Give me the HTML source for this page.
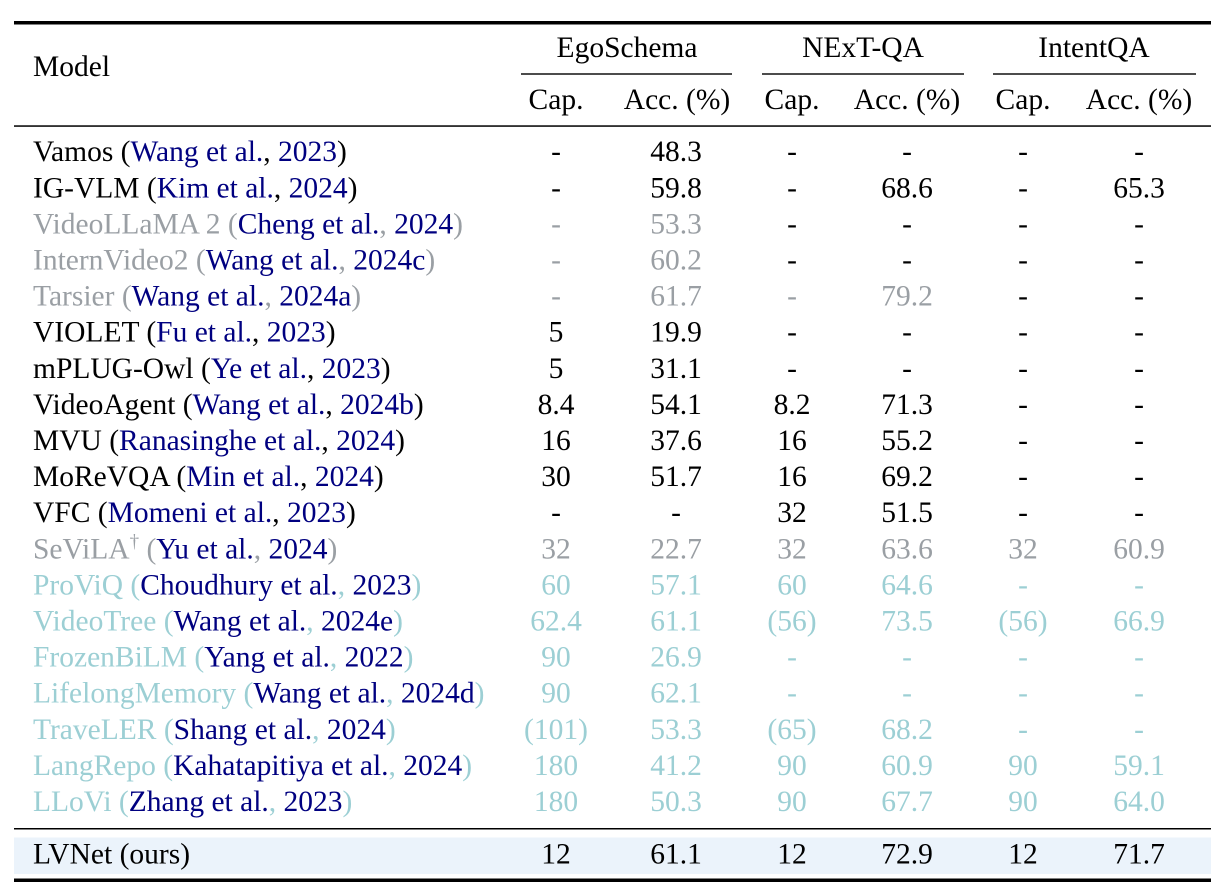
<!DOCTYPE html>
<html>
<head>
<meta charset="utf-8">
<style>
html,body{margin:0;padding:0;background:#fff;}
svg{display:block;}
text{font-family:"Liberation Serif","Times New Roman",serif;font-size:29.5px;fill:#000;}
.g{fill:#9a9fa4;}
.t{fill:#9ccfd4;}
.n{fill:#000080;}
.c{text-anchor:middle;}
</style>
</head>
<body>
<svg width="1228" height="886" viewBox="0 0 1228 886" xmlns="http://www.w3.org/2000/svg">
<!-- rules -->
<rect x="14" y="21" width="1197" height="3.5" fill="#000"/>
<rect x="521" y="73.3" width="211" height="1.4" fill="#000"/>
<rect x="762" y="73.3" width="202" height="1.4" fill="#000"/>
<rect x="993" y="73.3" width="203" height="1.4" fill="#000"/>
<rect x="14" y="125.3" width="1197" height="1.5" fill="#000"/>
<rect x="14" y="828" width="1197" height="1.5" fill="#000"/>
<rect x="14" y="837.5" width="1197" height="36.5" fill="#ebf3fb"/>
<rect x="14" y="878.5" width="1197" height="3.5" fill="#000"/>

<!-- header -->
<text x="33" y="76">Model</text>
<text class="c" x="627" y="57">EgoSchema</text>
<text class="c" x="863" y="57">NExT-QA</text>
<text class="c" x="1094" y="57">IntentQA</text>
<text class="c" x="556" y="109">Cap.</text>
<text class="c" x="677" y="109">Acc. (%)</text>
<text class="c" x="792" y="109">Cap.</text>
<text class="c" x="907" y="109">Acc. (%)</text>
<text class="c" x="1023" y="109">Cap.</text>
<text class="c" x="1139" y="109">Acc. (%)</text>

<!-- row 1 y=161.2 -->
<text x="33" y="161.2">Vamos (<tspan class="n">Wang et al.</tspan>, <tspan class="n">2023</tspan>)</text>
<text class="c" x="556" y="161.2">-</text><text class="c" x="676" y="161.2">48.3</text><text class="c" x="792" y="161.2">-</text><text class="c" x="907" y="161.2">-</text><text class="c" x="1023" y="161.2">-</text><text class="c" x="1139" y="161.2">-</text>

<!-- row 2 y=197.3 -->
<text x="33" y="197.3">IG-VLM (<tspan class="n">Kim et al.</tspan>, <tspan class="n">2024</tspan>)</text>
<text class="c" x="556" y="197.3">-</text><text class="c" x="676" y="197.3">59.8</text><text class="c" x="792" y="197.3">-</text><text class="c" x="907" y="197.3">68.6</text><text class="c" x="1023" y="197.3">-</text><text class="c" x="1139" y="197.3">65.3</text>

<!-- row 3 y=233.4 -->
<text x="33" y="233.4" class="g">VideoLLaMA 2 (<tspan class="n">Cheng et al.</tspan>, <tspan class="n">2024</tspan>)</text>
<text class="c g" x="556" y="233.4">-</text><text class="c g" x="676" y="233.4">53.3</text><text class="c" x="792" y="233.4">-</text><text class="c" x="907" y="233.4">-</text><text class="c" x="1023" y="233.4">-</text><text class="c" x="1139" y="233.4">-</text>

<!-- row 4 y=269.5 -->
<text x="33" y="269.5" class="g">InternVideo2 (<tspan class="n">Wang et al.</tspan>, <tspan class="n">2024c</tspan>)</text>
<text class="c g" x="556" y="269.5">-</text><text class="c g" x="676" y="269.5">60.2</text><text class="c" x="792" y="269.5">-</text><text class="c" x="907" y="269.5">-</text><text class="c" x="1023" y="269.5">-</text><text class="c" x="1139" y="269.5">-</text>

<!-- row 5 y=305.6 -->
<text x="33" y="305.6" class="g">Tarsier (<tspan class="n">Wang et al.</tspan>, <tspan class="n">2024a</tspan>)</text>
<text class="c g" x="556" y="305.6">-</text><text class="c g" x="676" y="305.6">61.7</text><text class="c g" x="792" y="305.6">-</text><text class="c g" x="907" y="305.6">79.2</text><text class="c" x="1023" y="305.6">-</text><text class="c" x="1139" y="305.6">-</text>

<!-- row 6 y=341.7 -->
<text x="33" y="341.7">VIOLET (<tspan class="n">Fu et al.</tspan>, <tspan class="n">2023</tspan>)</text>
<text class="c" x="556" y="341.7">5</text><text class="c" x="676" y="341.7">19.9</text><text class="c" x="792" y="341.7">-</text><text class="c" x="907" y="341.7">-</text><text class="c" x="1023" y="341.7">-</text><text class="c" x="1139" y="341.7">-</text>

<!-- row 7 y=377.8 -->
<text x="33" y="377.8">mPLUG-Owl (<tspan class="n">Ye et al.</tspan>, <tspan class="n">2023</tspan>)</text>
<text class="c" x="556" y="377.8">5</text><text class="c" x="676" y="377.8">31.1</text><text class="c" x="792" y="377.8">-</text><text class="c" x="907" y="377.8">-</text><text class="c" x="1023" y="377.8">-</text><text class="c" x="1139" y="377.8">-</text>

<!-- row 8 y=413.9 -->
<text x="33" y="413.9">VideoAgent (<tspan class="n">Wang et al.</tspan>, <tspan class="n">2024b</tspan>)</text>
<text class="c" x="556" y="413.9">8.4</text><text class="c" x="676" y="413.9">54.1</text><text class="c" x="792" y="413.9">8.2</text><text class="c" x="907" y="413.9">71.3</text><text class="c" x="1023" y="413.9">-</text><text class="c" x="1139" y="413.9">-</text>

<!-- row 9 y=450.0 -->
<text x="33" y="450">MVU (<tspan class="n">Ranasinghe et al.</tspan>, <tspan class="n">2024</tspan>)</text>
<text class="c" x="556" y="450">16</text><text class="c" x="676" y="450">37.6</text><text class="c" x="792" y="450">16</text><text class="c" x="907" y="450">55.2</text><text class="c" x="1023" y="450">-</text><text class="c" x="1139" y="450">-</text>

<!-- row 10 y=486.1 -->
<text x="33" y="486.1">MoReVQA (<tspan class="n">Min et al.</tspan>, <tspan class="n">2024</tspan>)</text>
<text class="c" x="556" y="486.1">30</text><text class="c" x="676" y="486.1">51.7</text><text class="c" x="792" y="486.1">16</text><text class="c" x="907" y="486.1">69.2</text><text class="c" x="1023" y="486.1">-</text><text class="c" x="1139" y="486.1">-</text>

<!-- row 11 y=522.2 -->
<text x="33" y="522.2">VFC (<tspan class="n">Momeni et al.</tspan>, <tspan class="n">2023</tspan>)</text>
<text class="c" x="556" y="522.2">-</text><text class="c" x="676" y="522.2">-</text><text class="c" x="792" y="522.2">32</text><text class="c" x="907" y="522.2">51.5</text><text class="c" x="1023" y="522.2">-</text><text class="c" x="1139" y="522.2">-</text>

<!-- row 12 y=558.3 -->
<text x="33" y="558.3" class="g">SeViLA<tspan dy="-11" font-size="19">†</tspan><tspan dy="11"> (</tspan><tspan class="n">Yu et al.</tspan>, <tspan class="n">2024</tspan>)</text>
<text class="c g" x="556" y="558.3">32</text><text class="c g" x="676" y="558.3">22.7</text><text class="c g" x="792" y="558.3">32</text><text class="c g" x="907" y="558.3">63.6</text><text class="c g" x="1023" y="558.3">32</text><text class="c g" x="1139" y="558.3">60.9</text>

<!-- row 13 y=594.4 -->
<text x="33" y="594.4" class="t">ProViQ (<tspan class="n">Choudhury et al.</tspan>, <tspan class="n">2023</tspan>)</text>
<text class="c t" x="556" y="594.4">60</text><text class="c t" x="676" y="594.4">57.1</text><text class="c t" x="792" y="594.4">60</text><text class="c t" x="907" y="594.4">64.6</text><text class="c t" x="1023" y="594.4">-</text><text class="c t" x="1139" y="594.4">-</text>

<!-- row 14 y=630.5 -->
<text x="33" y="630.5" class="t">VideoTree (<tspan class="n">Wang et al.</tspan>, <tspan class="n">2024e</tspan>)</text>
<text class="c t" x="556" y="630.5">62.4</text><text class="c t" x="676" y="630.5">61.1</text><text class="c t" x="792" y="630.5">(56)</text><text class="c t" x="907" y="630.5">73.5</text><text class="c t" x="1023" y="630.5">(56)</text><text class="c t" x="1139" y="630.5">66.9</text>

<!-- row 15 y=666.6 -->
<text x="33" y="666.6" class="t">FrozenBiLM (<tspan class="n">Yang et al.</tspan>, <tspan class="n">2022</tspan>)</text>
<text class="c t" x="556" y="666.6">90</text><text class="c t" x="676" y="666.6">26.9</text><text class="c t" x="792" y="666.6">-</text><text class="c t" x="907" y="666.6">-</text><text class="c t" x="1023" y="666.6">-</text><text class="c t" x="1139" y="666.6">-</text>

<!-- row 16 y=702.7 -->
<text x="33" y="702.7" class="t">LifelongMemory (<tspan class="n">Wang et al.</tspan>, <tspan class="n">2024d</tspan>)</text>
<text class="c t" x="556" y="702.7">90</text><text class="c t" x="676" y="702.7">62.1</text><text class="c t" x="792" y="702.7">-</text><text class="c t" x="907" y="702.7">-</text><text class="c t" x="1023" y="702.7">-</text><text class="c t" x="1139" y="702.7">-</text>

<!-- row 17 y=738.8 -->
<text x="33" y="738.8" class="t">TraveLER (<tspan class="n">Shang et al.</tspan>, <tspan class="n">2024</tspan>)</text>
<text class="c t" x="556" y="738.8">(101)</text><text class="c t" x="676" y="738.8">53.3</text><text class="c t" x="792" y="738.8">(65)</text><text class="c t" x="907" y="738.8">68.2</text><text class="c t" x="1023" y="738.8">-</text><text class="c t" x="1139" y="738.8">-</text>

<!-- row 18 y=774.9 -->
<text x="33" y="774.9" class="t">LangRepo (<tspan class="n">Kahatapitiya et al.</tspan>, <tspan class="n">2024</tspan>)</text>
<text class="c t" x="556" y="774.9">180</text><text class="c t" x="676" y="774.9">41.2</text><text class="c t" x="792" y="774.9">90</text><text class="c t" x="907" y="774.9">60.9</text><text class="c t" x="1023" y="774.9">90</text><text class="c t" x="1139" y="774.9">59.1</text>

<!-- row 19 y=811.0 -->
<text x="33" y="811" class="t">LLoVi (<tspan class="n">Zhang et al.</tspan>, <tspan class="n">2023</tspan>)</text>
<text class="c t" x="556" y="811">180</text><text class="c t" x="676" y="811">50.3</text><text class="c t" x="792" y="811">90</text><text class="c t" x="907" y="811">67.7</text><text class="c t" x="1023" y="811">90</text><text class="c t" x="1139" y="811">64.0</text>

<!-- LVNet y=863.5 -->
<text x="33" y="863.5">LVNet (ours)</text>
<text class="c" x="556" y="863.5">12</text><text class="c" x="676" y="863.5">61.1</text><text class="c" x="792" y="863.5">12</text><text class="c" x="907" y="863.5">72.9</text><text class="c" x="1023" y="863.5">12</text><text class="c" x="1139" y="863.5">71.7</text>
</svg>
</body>
</html>
